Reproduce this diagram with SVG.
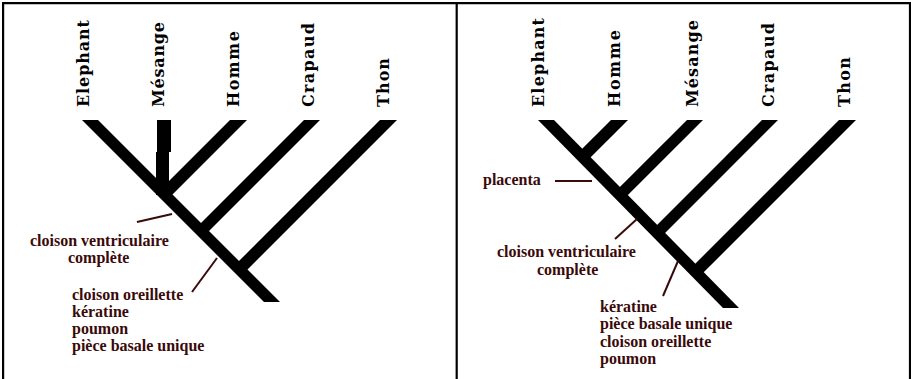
<svg xmlns="http://www.w3.org/2000/svg" width="911" height="379" viewBox="0 0 911 379">
<style>
.frame{stroke:#000;stroke-width:2.2;fill:none}
.br{fill:#000}
.sp{font-family:"DejaVu Serif",serif;font-weight:bold;font-size:16px;fill:#000}
.an{font-family:"Liberation Serif",serif;font-weight:bold;font-size:16px;fill:#3a0a0a}
.ptr{stroke:#3a0a0a;stroke-width:2;fill:none}
</style>
<rect x="0" y="0" width="911" height="379" fill="#fff"/>
<g id="frame">
<line class="frame" x1="2" y1="3.1" x2="911" y2="3.1"/>
<line class="frame" x1="3.1" y1="2" x2="3.1" y2="379"/>
<line class="frame" x1="456.7" y1="2" x2="456.7" y2="379"/>
<line class="frame" x1="910" y1="2" x2="910" y2="379"/>
</g>
<g id="left-tree">
<g id="l-main"><polygon class="br" points="82,120 98,120 280,302 264,302"/></g>
<g id="l-mesange"><polygon class="br" points="157,120 171,120 171,152 169,152 169,195 156,195 156,152 157,152"/></g>
<g id="l-homme"><polygon class="br" points="230,120 247,120 168.5,198.5 160,190"/></g>
<g id="l-crapaud"><polygon class="br" points="304,120 320,120 205,235 197,227"/></g>
<g id="l-thon"><polygon class="br" points="380,120 397,120 243.5,273.5 235,265"/></g>
</g>
<g id="right-tree">
<g id="r-main"><polygon class="br" points="538,120 554,120 739,308 723,308"/></g>
<g id="r-homme"><polygon class="br" points="611,120 628,120 586.7,161.3 578.2,152.8"/></g>
<g id="r-mesange"><polygon class="br" points="687,120 703,120 623.9,199.1 615.9,191.1"/></g>
<g id="r-crapaud"><polygon class="br" points="762,120 778,120 661.1,236.9 653.1,228.9"/></g>
<g id="r-thon"><polygon class="br" points="839,120 856,120 699.7,276.3 691.3,267.7"/></g>
</g>
<g id="species-labels">
<text class="sp" transform="translate(89,107) rotate(-90)" textLength="87" lengthAdjust="spacing">Elephant</text>
<text class="sp" transform="translate(164,107) rotate(-90)" textLength="85" lengthAdjust="spacing">Mésange</text>
<text class="sp" transform="translate(239,107) rotate(-90)" textLength="76" lengthAdjust="spacing">Homme</text>
<text class="sp" transform="translate(314,107) rotate(-90)" textLength="84" lengthAdjust="spacing">Crapaud</text>
<text class="sp" transform="translate(389,107) rotate(-90)" textLength="49" lengthAdjust="spacing">Thon</text>
<text class="sp" transform="translate(544,107) rotate(-90)" textLength="89" lengthAdjust="spacing">Elephant</text>
<text class="sp" transform="translate(620,107) rotate(-90)" textLength="77" lengthAdjust="spacing">Homme</text>
<text class="sp" transform="translate(698,107) rotate(-90)" textLength="87" lengthAdjust="spacing">Mésange</text>
<text class="sp" transform="translate(774,107) rotate(-90)" textLength="84" lengthAdjust="spacing">Crapaud</text>
<text class="sp" transform="translate(850,107) rotate(-90)" textLength="50" lengthAdjust="spacing">Thon</text>
</g>
<g id="connectors">
<line class="ptr" x1="137" y1="222" x2="172" y2="214"/>
<line class="ptr" x1="192" y1="292" x2="217" y2="258"/>
<line class="ptr" x1="555" y1="181" x2="592" y2="181"/>
<line class="ptr" x1="615" y1="239" x2="637" y2="219"/>
<line class="ptr" x1="663" y1="296" x2="678" y2="261"/>
</g>
<g id="left-annotations">
<text class="an" x="30" y="246">cloison ventriculaire</text>
<text class="an" x="68" y="263">complète</text>
<text class="an" x="72" y="300">cloison oreillette</text>
<text class="an" x="72" y="317">kératine</text>
<text class="an" x="72" y="334">poumon</text>
<text class="an" x="72" y="351">pièce basale unique</text>
</g>
<g id="right-annotations">
<text class="an" x="483" y="185">placenta</text>
<text class="an" x="497" y="257">cloison ventriculaire</text>
<text class="an" x="537" y="275">complète</text>
<text class="an" x="600" y="312">kératine</text>
<text class="an" x="600" y="329">pièce basale unique</text>
<text class="an" x="600" y="347">cloison oreillette</text>
<text class="an" x="600" y="364">poumon</text>
</g>
</svg>
